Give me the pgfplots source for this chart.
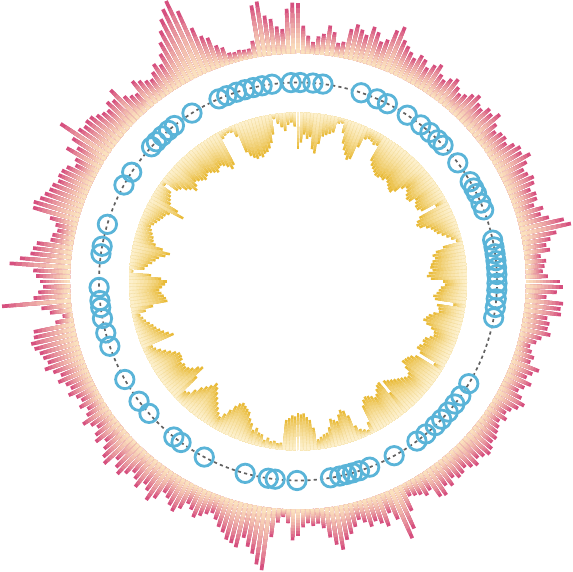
\documentclass[border=0pt]{standalone}
\usepackage{pgfplots}
\usepackage{pgfplotstable}
\pgfplotsset{compat=1.18}
\definecolor{opink}{HTML}{D6507F}
\definecolor{opeach}{HTML}{FBE1BE}
\definecolor{igold}{HTML}{E9BB3A}
\definecolor{ipale}{HTML}{FDF0CC}
\definecolor{mblue}{HTML}{5AB4D8}

% outer ring: one value per 1.2 degree sector, clockwise from the top
\pgfplotstableread[row sep=\\]{L\\
50\\28\\18\\12\\18\\21\\30\\24\\14\\16\\
30\\36\\32\\28\\38\\34\\26\\30\\42\\48\\
36\\32\\28\\24\\30\\28\\22\\28\\32\\24\\
21\\26\\30\\24\\20\\23\\28\\32\\26\\24\\
30\\28\\34\\25\\20\\24\\25\\22\\28\\32\\
30\\37\\30\\24\\26\\30\\28\\22\\26\\25\\
20\\28\\24\\31\\45\\51\\35\\28\\23\\26\\
16\\21\\19\\17\\22\\34\\37\\31\\21\\38\\
36\\37\\24\\27\\26\\30\\22\\18\\13\\16\\
20\\18\\29\\24\\20\\27\\22\\18\\24\\30\\
26\\21\\18\\22\\17\\20\\22\\25\\24\\28\\
30\\27\\24\\29\\26\\22\\25\\26\\22\\28\\
24\\32\\30\\19\\22\\18\\16\\14\\28\\45\\
53\\30\\21\\33\\28\\24\\28\\22\\18\\24\\
30\\35\\44\\38\\30\\20\\15\\17\\14\\18\\
27\\31\\14\\8\\14\\29\\63\\58\\48\\42\\
34\\45\\42\\40\\34\\30\\24\\19\\22\\26\\
30\\24\\20\\28\\34\\30\\25\\22\\32\\38\\
30\\26\\34\\28\\24\\30\\36\\32\\26\\38\\
34\\28\\22\\30\\26\\20\\24\\30\\22\\18\\
24\\19\\22\\28\\23\\26\\32\\27\\33\\40\\
35\\38\\40\\44\\46\\42\\41\\18\\10\\22\\
30\\69\\37\\32\\27\\30\\34\\37\\61\\51\\
41\\39\\36\\23\\22\\18\\21\\28\\47\\48\\
43\\40\\37\\36\\32\\34\\33\\30\\23\\26\\
39\\30\\39\\57\\39\\36\\38\\37\\33\\30\\
28\\34\\31\\40\\26\\22\\20\\32\\28\\24\\
22\\27\\33\\29\\38\\48\\58\\68\\76\\82\\
68\\47\\36\\32\\22\\18\\11\\10\\11\\10\\
10\\17\\52\\55\\40\\36\\28\\25\\45\\51\\
}\outerdata
\pgfplotstablecreatecol[expr={\pgfplotstablerow*1.2}]{a}\outerdata

% inner ring: one value per 1.2 degree sector, clockwise from the top
\pgfplotstableread[row sep=\\]{L\\
37\\30\\22\\26\\24\\36\\40\\30\\22\\20\\
18\\16\\6\\5\\14\\24\\30\\34\\38\\36\\
22\\12\\10\\11\\13\\12\\28\\32\\34\\36\\
38\\38\\36\\37\\34\\36\\38\\40\\41\\37\\
30\\26\\28\\31\\33\\32\\26\\28\\30\\30\\
27\\12\\32\\36\\38\\36\\30\\26\\24\\22\\
18\\14\\10\\6\\20\\28\\32\\30\\33\\35\\
36\\34\\38\\40\\36\\24\\22\\26\\28\\30\\
33\\31\\12\\28\\26\\25\\30\\34\\36\\38\\
34\\28\\24\\23\\26\\30\\31\\29\\32\\33\\
28\\10\\30\\34\\36\\37\\38\\32\\26\\24\\
26\\28\\30\\32\\34\\36\\38\\25\\40\\39\\
36\\32\\30\\33\\35\\36\\34\\29\\12\\5\\
7\\9\\14\\26\\32\\34\\30\\24\\26\\28\\
20\\15\\14\\12\\10\\22\\30\\33\\37\\36\\
37\\34\\35\\32\\30\\7\\6\\8\\7\\10\\
7\\12\\13\\17\\14\\20\\24\\30\\32\\34\\
36\\34\\30\\24\\18\\13\\16\\20\\24\\28\\
32\\36\\39\\34\\30\\26\\20\\14\\12\\30\\
41\\38\\33\\30\\28\\29\\27\\30\\31\\31\\
28\\24\\20\\16\\12\\10\\34\\30\\26\\23\\
20\\18\\15\\12\\10\\8\\14\\22\\37\\36\\
34\\32\\30\\33\\36\\38\\32\\22\\4\\15\\
18\\22\\25\\28\\34\\38\\30\\22\\19\\18\\
16\\14\\12\\14\\16\\18\\20\\21\\24\\38\\
30\\20\\18\\16\\14\\5\\18\\20\\25\\28\\
33\\30\\26\\28\\30\\32\\30\\28\\30\\32\\
34\\31\\30\\32\\35\\39\\36\\8\\6\\5\\
6\\12\\30\\35\\38\\40\\38\\40\\37\\36\\
33\\28\\20\\5\\10\\14\\18\\12\\10\\14\\
}\innerdata
\pgfplotstablecreatecol[expr={\pgfplotstablerow*1.2}]{a}\innerdata

% scatter ring: angle (degrees, clockwise from the top) and radius
\pgfplotstableread[row sep=\\]{a r\\
358 199\\0.6 199\\4.3 199\\7.2 199\\18.5 199\\23.4 199\\26.7 199\\33.3 199\\38.1 199\\41.5 199\\
44.6 199\\46.8 199\\53.4 199\\59.9 199\\62 199\\63.8 199\\66.8 199\\68.9 199\\78 199\\80 199\\
82 199\\84 199\\86 199\\88 199\\90.5 199\\92.5 199\\95 199\\97.5 199\\100.5 199\\120.9 199\\
125.1 199\\128 199\\131 199\\133.8 199\\136.4 199\\140 199\\143.3 199\\151.1 199\\158.9 199\\162 199\\
164.1 199\\165.9 199\\167.9 199\\170.6 199\\180.3 199\\186.6 199\\188.6 199\\195.4 199\\208.1 199\\216 199\\
218.6 199\\228.5 199\\233 199\\240.5 199\\251 199\\255 199\\259.3 199\\262.5 199\\264.5 199\\268.3 199\\
278 199\\280.2 199\\286.7 199\\299 199\\303.3 199\\312.6 199\\314.6 199\\317 199\\319.4 199\\321.6 199\\
327.8 199\\336.6 199\\339 199\\342 199\\344.5 199\\347 199\\349.6 199\\352.5 199\\
}\markdata

\newcommand\olayer[2]{%
\addplot[color=opink!#2!opeach, line width=1.85pt,
  quiver={u={#1*\thisrow{L}*sin(\thisrow{a})}, v={#1*\thisrow{L}*cos(\thisrow{a})}}]
  table[x expr={228*sin(\thisrow{a})}, y expr={228*cos(\thisrow{a})}] {\outerdata};}
\newcommand\ilayer[2]{%
\addplot[color=igold!#2!ipale, line width=1.25pt,
  quiver={u={-#1*\thisrow{L}*sin(\thisrow{a})}, v={-#1*\thisrow{L}*cos(\thisrow{a})}}]
  table[x expr={169*sin(\thisrow{a})}, y expr={169*cos(\thisrow{a})}] {\innerdata};}

\begin{document}
\begin{tikzpicture}
\begin{axis}[width=286pt, height=286pt, scale only axis,
  xmin=-298, xmax=274, ymin=-290.5, ymax=281.5, hide axis, clip=true]
\path (rel axis cs:0,0) rectangle (rel axis cs:1,1);
\olayer{1}{100}
\olayer{0.9}{82}
\olayer{0.8}{66}
\olayer{0.7}{53}
\olayer{0.6}{42}
\olayer{0.5}{31}
\olayer{0.4}{22}
\olayer{0.3}{13}
\olayer{0.2}{6}
\olayer{0.1}{0}
\ilayer{1}{100}
\ilayer{0.9}{82}
\ilayer{0.8}{66}
\ilayer{0.7}{53}
\ilayer{0.6}{42}
\ilayer{0.5}{31}
\ilayer{0.4}{22}
\ilayer{0.3}{13}
\ilayer{0.2}{6}
\ilayer{0.1}{0}
\draw[dash pattern=on 1.6pt off 1.6pt, line width=0.85pt, color=black!62] (axis cs:0,0) circle[radius=99.5pt];
\addplot[only marks, mark=o, mark size=4.6pt, mark options={line width=1.4pt, draw=mblue}]
  table[x expr={\thisrow{r}*sin(\thisrow{a})}, y expr={\thisrow{r}*cos(\thisrow{a})}] {\markdata};
\end{axis}
\end{tikzpicture}
\end{document}
